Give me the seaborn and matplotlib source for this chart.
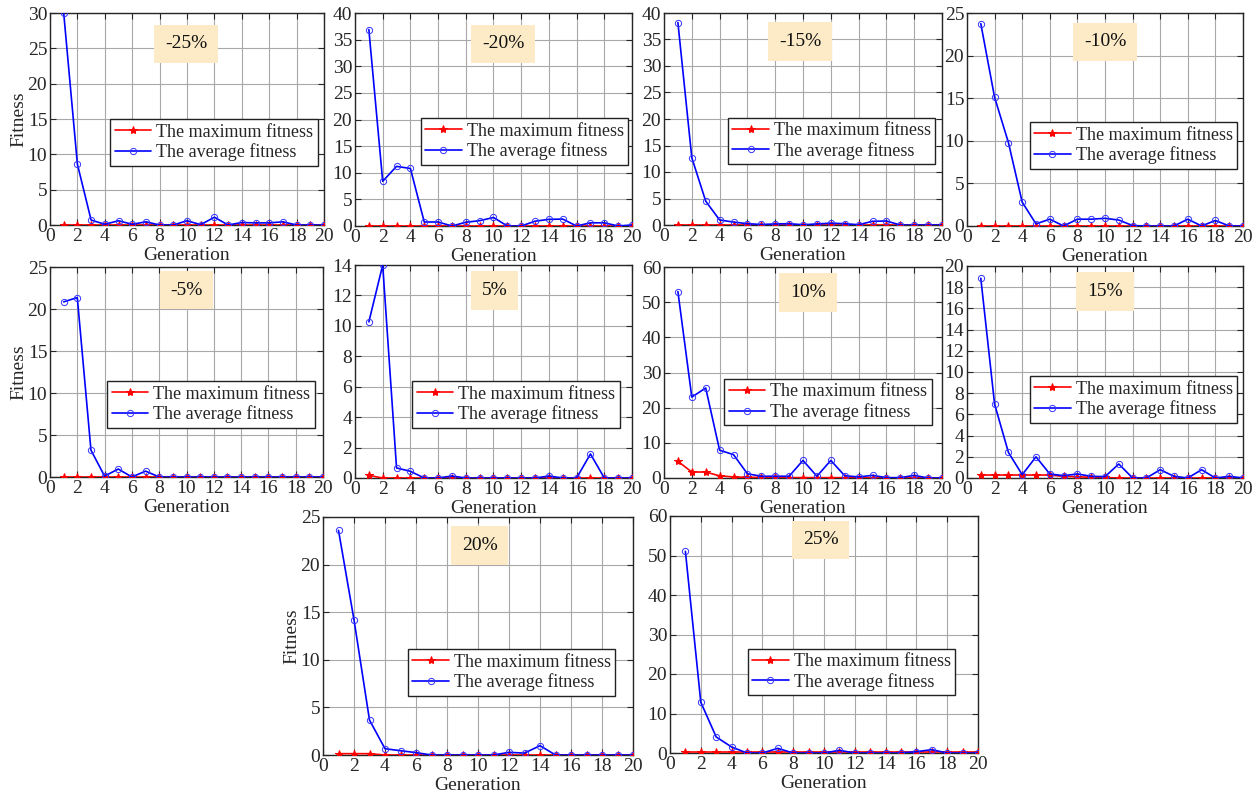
import matplotlib
matplotlib.use("Agg")
import matplotlib.pyplot as plt
import seaborn as sns
import numpy as np
import pandas as pd

generations = list(range(1, 21))

labels = ["-25%", "-20%", "-15%", "-10%", "-5%", "5%", "10%", "15%", "20%", "25%"]

avg_m25 = [30.0, 8.6, 0.7, 0.1, 0.6, 0.1, 0.45, 0.0, 0.0, 0.6, 0.05, 1.1, 0.0, 0.35, 0.3, 0.3, 0.45, 0.0, 0.0, 0.0]
max_m25 = [0.02] * 20
avg_m20 = [36.9, 8.4, 11.2, 10.8, 0.75, 0.75, 0.0, 0.7, 1.0, 1.6, 0.0, 0.0, 0.9, 1.25, 1.3, 0.0, 0.6, 0.6, 0.0, 0.2]
max_m20 = [0.02] * 20
avg_m15 = [38.2, 12.7, 4.5, 0.95, 0.55, 0.25, 0.1, 0.2, 0.25, 0.05, 0.2, 0.35, 0.25, 0.05, 0.7, 0.75, 0.0, 0.0, 0.0, 0.0]
max_m15 = [0.02] * 20
avg_m10 = [23.75, 15.1, 9.8, 2.8, 0.25, 0.8, 0.0, 0.8, 0.8, 0.9, 0.7, 0.05, 0.0, 0.0, 0.0, 0.8, 0.0, 0.65, 0.0, 0.0]
max_m10 = [0.02] * 20
avg_m5 = [20.85, 21.36, 3.2, 0.1, 0.95, 0.0, 0.7, 0.0, 0.0, 0.0, 0.0, 0.0, 0.0, 0.0, 0.0, 0.0, 0.0, 0.0, 0.0, 0.0]
max_m5 = [0.02] * 20
avg_p5 = [10.26, 14.0, 0.66, 0.44, 0.0, 0.0, 0.13, 0.0, 0.0, 0.0, 0.0, 0.0, 0.0, 0.13, 0.0, 0.0, 1.58, 0.0, 0.0, 0.0]
max_p5 = [0.17, 0.0, 0.0, 0.0, 0.0, 0.0, 0.0, 0.0, 0.0, 0.0, 0.0, 0.0, 0.0, 0.0, 0.0, 0.0, 0.0, 0.0, 0.0, 0.0]
avg_p10 = [53.0, 23.0, 25.6, 7.9, 6.65, 1.2, 0.5, 0.5, 0.5, 5.0, 0.5, 5.0, 0.65, 0.3, 0.75, 0.1, 0.1, 0.75, 0.0, 0.0]
max_p10 = [4.75, 1.7, 1.7, 0.6, 0.3, 0.2, 0.15, 0.15, 0.12, 0.12, 0.1, 0.1, 0.1, 0.08, 0.05, 0.05, 0.05, 0.03, 0.02, 0.02]
avg_p15 = [18.84, 6.97, 2.42, 0.31, 2.0, 0.38, 0.22, 0.38, 0.16, 0.13, 1.32, 0.0, 0.0, 0.78, 0.16, 0.0, 0.78, 0.0, 0.16, 0.0]
max_p15 = [0.28, 0.28, 0.28, 0.28, 0.28, 0.28, 0.15, 0.12, 0.06, 0.05, 0.0, 0.0, 0.0, 0.0, 0.0, 0.0, 0.0, 0.0, 0.0, 0.0]
avg_p20 = [23.6, 14.2, 3.67, 0.66, 0.45, 0.25, 0.0, 0.0, 0.0, 0.0, 0.0, 0.28, 0.2, 0.98, 0.0, 0.0, 0.0, 0.0, 0.0, 0.0]
max_p20 = [0.14, 0.14, 0.14, 0.0, 0.0, 0.0, 0.0, 0.0, 0.0, 0.0, 0.0, 0.0, 0.0, 0.0, 0.0, 0.0, 0.0, 0.0, 0.0, 0.0]
avg_p25 = [51.05, 12.85, 4.06, 1.52, 0.0, 0.0, 1.18, 0.0, 0.0, 0.0, 0.68, 0.0, 0.0, 0.0, 0.0, 0.34, 0.85, 0.0, 0.0, 0.0]
max_p25 = [0.15] * 20

avg_series = [avg_m25, avg_m20, avg_m15, avg_m10, avg_m5, avg_p5, avg_p10, avg_p15, avg_p20, avg_p25]
max_series = [max_m25, max_m20, max_m15, max_m10, max_m5, max_p5, max_p10, max_p15, max_p20, max_p25]
y_max = [30, 40, 40, 25, 25, 14, 60, 20, 25, 60]
y_step = [5, 5, 5, 5, 5, 2, 10, 2, 5, 10]

sns.set_theme(style="whitegrid")
plt.rcParams["font.family"] = ["Liberation Serif", "DejaVu Serif"]
plt.rcParams["mathtext.fontset"] = "stix"

W, H = 1258, 793
fig = plt.figure(figsize=(W / 100, H / 100), dpi=100)
fig.patch.set_facecolor("white")

# axes boxes in pixels: (left, top, right, bottom)
boxes = [
    (50, 13, 324, 225), (355, 13, 632, 226), (664, 13, 942, 225), (967, 13, 1243, 226),
    (50, 267, 323, 477), (355, 265, 632, 478), (664, 267, 942, 478), (967, 266, 1243, 478),
    (323, 517, 633, 755), (670, 516, 978, 753),
]
legend_pos = [
    (0.22, 0.50), (0.238, 0.507), (0.23, 0.507), (0.228, 0.488),
    (0.21, 0.457), (0.206, 0.455), (0.216, 0.47), (0.228, 0.48),
    (0.274, 0.445), (0.253, 0.44),
]
label_pos = [
    (0.496, 0.855), (0.535, 0.855), (0.49, 0.865), (0.5, 0.865),
    (0.5, 0.89), (0.505, 0.88), (0.518, 0.88), (0.5, 0.88),
    (0.506, 0.88), (0.49, 0.9),
]
show_ylabel = [True, False, False, False, True, False, False, False, True, False]

for i in range(10):
    l, t, r, b = boxes[i]
    ax = fig.add_axes([l / W, (H - b) / H, (r - l) / W, (b - t) / H])
    ax.set_facecolor("white")
    df = pd.DataFrame({"Generation": generations, "max": max_series[i], "avg": avg_series[i]})
    sns.lineplot(data=df, x="Generation", y="max", ax=ax, color="#ff0000", marker="*",
                 markersize=6, markeredgecolor="#ff0000", markerfacecolor="#ff0000",
                 linewidth=1.2, label="The maximum fitness", zorder=3)
    sns.lineplot(data=df, x="Generation", y="avg", ax=ax, color="#0000ff", marker="o",
                 markersize=4.5, markeredgecolor="#3333ff", markerfacecolor="none",
                 markeredgewidth=0.7, linewidth=1.2, label="The average fitness", zorder=4)
    ax.set_xlim(0, 20)
    ax.set_ylim(0, y_max[i])
    ax.set_xticks(np.arange(0, 21, 2))
    ax.set_yticks(np.arange(0, y_max[i] + 0.01, y_step[i]))
    ax.grid(True, color="#a8a8a8", linewidth=0.8)
    for sp in ax.spines.values():
        sp.set_color("#262626")
        sp.set_linewidth(1.0)
    ax.tick_params(axis="both", direction="in", length=4, width=0.8, colors="#262626",
                   labelsize=14, pad=2, labelcolor="#262626")
    ax.tick_params(top=True, right=True, bottom=True, left=True)
    ax.set_xlabel("Generation", fontsize=14, color="#262626", labelpad=1.5)
    if show_ylabel[i]:
        ax.set_ylabel("Fitness", fontsize=14, color="#262626", labelpad=0)
    else:
        ax.set_ylabel("")
    leg = ax.legend(loc="upper left", bbox_to_anchor=legend_pos[i], fontsize=13,
                    frameon=True, fancybox=False, borderpad=0.25, labelspacing=0.15,
                    handlelength=2.0, handletextpad=0.3, borderaxespad=0)
    leg.get_frame().set_edgecolor("#222222")
    leg.get_frame().set_linewidth(1.0)
    leg.get_frame().set_alpha(1.0)
    lx, ly = label_pos[i]
    ax.text(lx, ly, labels[i], transform=ax.transAxes, ha="center", va="center",
            fontsize=14, color="#111111", zorder=6,
            bbox=dict(boxstyle="square,pad=0.55", facecolor="#fcebc6", edgecolor="none"))

fig.savefig("out.png", dpi=100, facecolor="white")
